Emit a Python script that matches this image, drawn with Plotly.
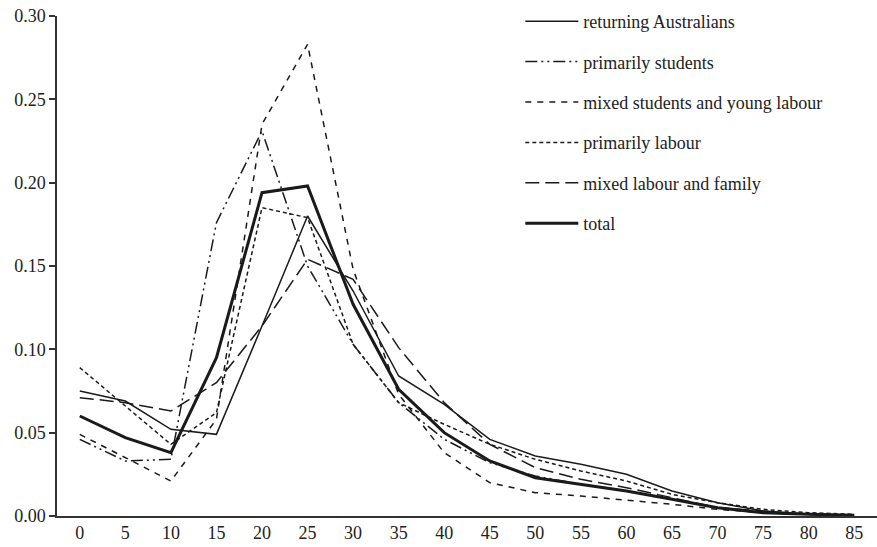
import plotly.graph_objects as go

ages = [0, 5, 10, 15, 20, 25, 30, 35, 40, 45, 50, 55, 60, 65, 70, 75, 80, 85]

returning = [0.075, 0.069, 0.052, 0.049, 0.114, 0.180, 0.135, 0.084, 0.067, 0.046, 0.036, 0.031, 0.025, 0.015, 0.008, 0.003, 0.001, 0.0005]
students = [0.046, 0.033, 0.034, 0.176, 0.231, 0.150, 0.103, 0.068, 0.046, 0.032, 0.024, 0.019, 0.015, 0.010, 0.005, 0.002, 0.001, 0.0005]
mixed_students = [0.049, 0.035, 0.021, 0.058, 0.235, 0.283, 0.148, 0.073, 0.038, 0.020, 0.014, 0.012, 0.0095, 0.007, 0.004, 0.002, 0.001, 0.0005]
labour = [0.089, 0.066, 0.043, 0.062, 0.185, 0.179, 0.103, 0.068, 0.055, 0.043, 0.034, 0.027, 0.021, 0.013, 0.008, 0.004, 0.002, 0.001]
labour_family = [0.071, 0.068, 0.063, 0.080, 0.114, 0.154, 0.142, 0.101, 0.068, 0.043, 0.029, 0.022, 0.017, 0.011, 0.005, 0.003, 0.001, 0.0005]
total = [0.060, 0.047, 0.038, 0.095, 0.194, 0.198, 0.127, 0.076, 0.050, 0.033, 0.023, 0.019, 0.015, 0.010, 0.005, 0.002, 0.001, 0.0005]

names = ["returning Australians", "primarily students", "mixed students and young labour",
         "primarily labour", "mixed labour and family", "total"]
series = [returning, students, mixed_students, labour, labour_family, total]
dashes = ["solid", "12px,4px,2px,4px,2px,4px", "6px,6px", "4px,3px", "14px,6px", "solid"]
widths = [1.5, 1.5, 1.5, 1.5, 1.5, 3]

x_ticks = [0, 5, 10, 15, 20, 25, 30, 35, 40, 45, 50, 55, 60, 65, 70, 75, 80, 85]
y_ticks = [0.00, 0.05, 0.10, 0.15, 0.20, 0.25, 0.30]

fig = go.Figure()
for i, (nm, ys, d, w) in enumerate(zip(names, series, dashes, widths)):
    fig.add_trace(go.Scatter(
        x=ages, y=ys, mode="lines", name=nm, legendgroup=f"g{i}",
        line=dict(color="#1a1a1a", width=w, dash=d),
    ))

font = dict(family="Liberation Serif, Times New Roman, serif", size=18, color="#222")

fig.update_layout(
    width=877, height=547,
    margin=dict(l=57, r=0, t=16, b=31),
    paper_bgcolor="white", plot_bgcolor="white",
    font=font,
    showlegend=True,
    legend=dict(
        x=0.565, xanchor="left", y=1.026, yanchor="top",
        bgcolor="rgba(0,0,0,0)", borderwidth=0,
        tracegroupgap=14, font=font, itemwidth=53,
    ),
    xaxis=dict(
        range=[-2.5, 87.5], tickvals=x_ticks, ticktext=[str(v) for v in x_ticks],
        showgrid=False, zeroline=False, showline=True, linecolor="#333", linewidth=1.5,
        ticks="", tickfont=font,
    ),
    yaxis=dict(
        range=[0, 0.30], tickvals=y_ticks, tickformat=".2f",
        showgrid=False, zeroline=False, showline=True, linecolor="#333", linewidth=1.5,
        ticks="outside", ticklen=6, tickcolor="#333", tickwidth=1.5, tickfont=font,
    ),
)

fig.write_html("out.html")
